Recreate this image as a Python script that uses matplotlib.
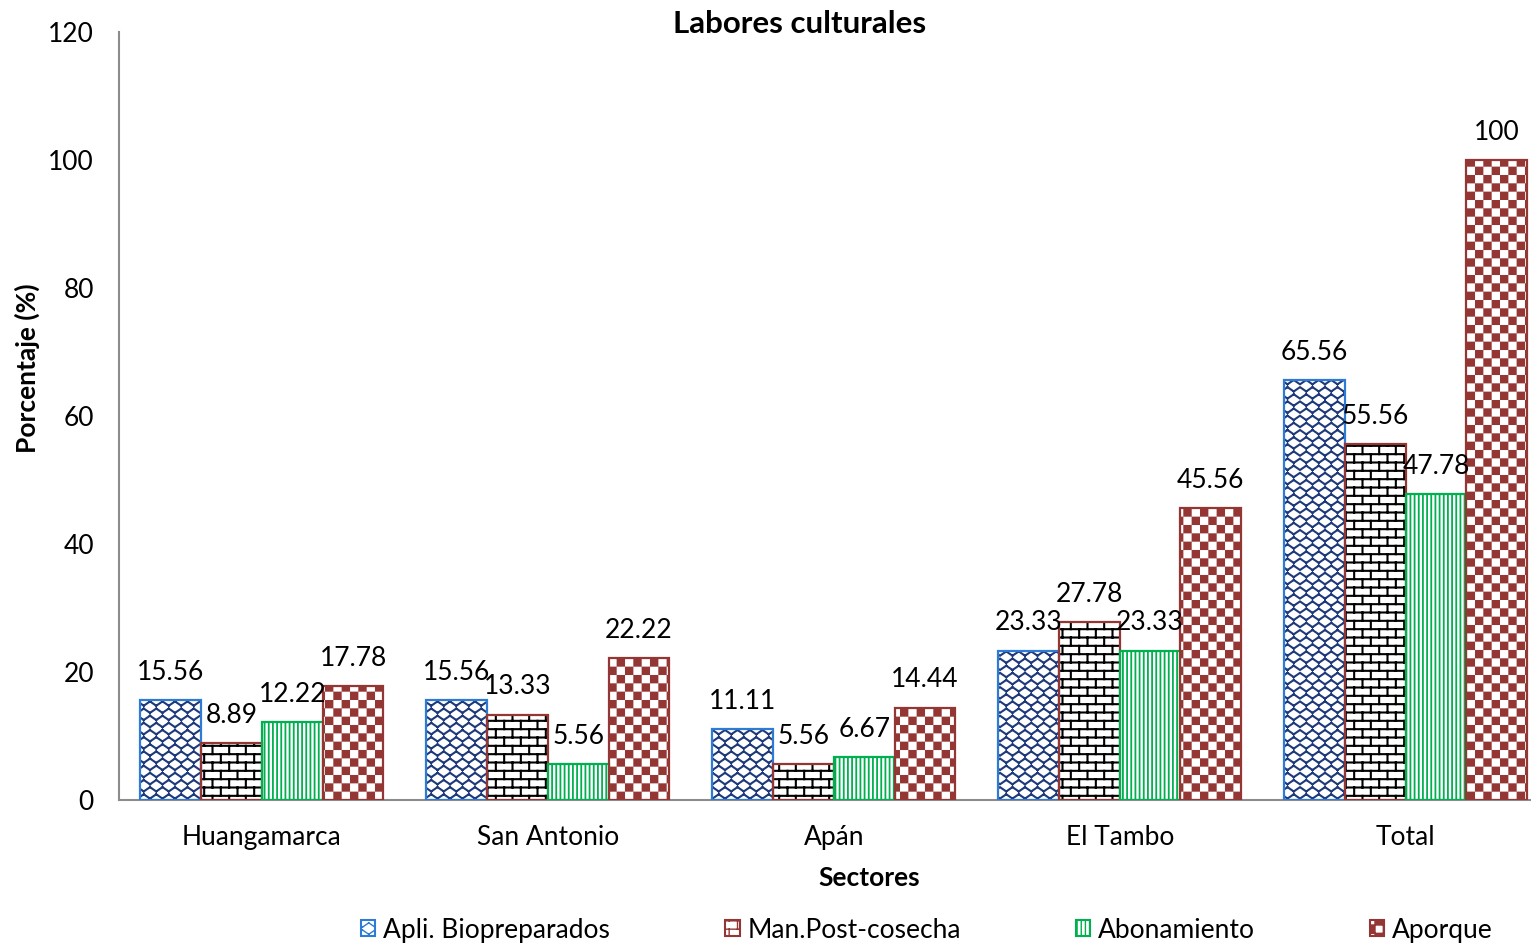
import warnings
warnings.filterwarnings('ignore')
import numpy as np
import matplotlib
matplotlib.use('Agg')
import matplotlib.pyplot as plt
import matplotlib.hatch as mhatch
from matplotlib.path import Path
from matplotlib.patches import Patch

# ---------------- data ----------------
sectores = ['Huangamarca', 'San Antonio', 'Apán', 'El Tambo', 'Total']
series_names = ['Apli. Biopreparados', 'Man.Post-cosecha', 'Abonamiento', 'Aporque']
apli = [15.56, 15.56, 11.11, 23.33, 65.56]
man_post = [8.89, 13.33, 5.56, 27.78, 55.56]
abonamiento = [12.22, 5.56, 6.67, 23.33, 47.78]
aporque = [17.78, 22.22, 14.44, 45.56, 100]
labels_apli = ['15.56', '15.56', '11.11', '23.33', '65.56']
labels_man = ['8.89', '13.33', '5.56', '27.78', '55.56']
labels_abo = ['12.22', '5.56', '6.67', '23.33', '47.78']
labels_apo = ['17.78', '22.22', '14.44', '45.56', '100']
yticks = [0, 20, 40, 60, 80, 100, 120]


# ---------------- custom hatch patterns ----------------
class _CustomHatch(mhatch.HatchPatternBase):
    char = None
    closed = False

    def __init__(self, hatch, density):
        self.active = hatch is not None and self.char in hatch
        self.segs = self.build() if self.active else []
        self.num_vertices = sum(len(s) for s in self.segs)

    def build(self):
        return []

    def set_vertices_and_codes(self, vertices, codes):
        i = 0
        for s in self.segs:
            n = len(s)
            vertices[i:i + n] = s
            codes[i] = Path.MOVETO
            codes[i + 1:i + n] = Path.LINETO
            if self.closed:
                codes[i + n - 1] = Path.CLOSEPOLY
            i += n


class CheckerHatch(_CustomHatch):
    char = 'k'
    closed = True

    def build(self):
        n = 12
        d = 1.0 / n
        segs = []
        for i in range(n):
            for j in range(n):
                if (i + j) % 2 == 0:
                    x0, y0 = i * d, j * d
                    segs.append([(x0, y0), (x0 + d, y0), (x0 + d, y0 + d),
                                 (x0, y0 + d), (x0, y0)])
        return segs


class BrickHatch(_CustomHatch):
    char = 'b'

    def build(self):
        rows, cols = 12, 6
        segs = []
        for r in range(rows):
            y = (r + 0.5) / rows
            segs.append([(0.0, y), (1.0, y)])
            y2 = (r + 1.5) / rows
            for c in range(cols):
                x = (c + 0.25 + 0.5 * (r % 2)) / cols
                x = x % 1.0
                segs.append([(x, y), (x, min(y2, 1.0))])
                if y2 > 1.0:
                    segs.append([(x, 0.0), (x, y2 - 1.0)])
        return segs


class ZigHatch(_CustomHatch):
    char = 'z'

    def build(self):
        rows, cols = 14, 8
        segs = []
        for r in range(rows):
            y0 = (r + 0.2) / rows
            y1 = (r + 0.8) / rows
            for c in range(cols):
                xa, xm, xb = c / cols, (c + 0.5) / cols, (c + 1) / cols
                if r % 2 == 0:
                    segs.append([(xa, y0), (xm, y1)])
                    segs.append([(xm, y1), (xb, y0)])
                else:
                    segs.append([(xa, y1), (xm, y0)])
                    segs.append([(xm, y0), (xb, y1)])
        return segs


mhatch._hatch_types.extend([CheckerHatch, BrickHatch, ZigHatch])

# ---------------- figure ----------------
plt.rcParams['font.family'] = ['Lato', 'DejaVu Sans']
FS = 19

fig = plt.figure(figsize=(15.31, 9.46), dpi=100)
ax = fig.add_axes([119 / 1531, 146 / 946, 1411 / 1531, 768 / 946])

x = np.arange(len(sectores))
w = 0.2125
offsets = [-1.5 * w, -0.5 * w, 0.5 * w, 1.5 * w]

series = [apli, man_post, abonamiento, aporque]
labels = [labels_apli, labels_man, labels_abo, labels_apo]
hatches = ['z', 'b', '||||', 'k']
hatch_colors = ['#1F3A7A', '#000000', '#00B050', '#943634']
edge_colors = ['#2E7BD6', '#943634', '#00B050', '#943634']
hatch_lw = [1.5, 1.5, 1.3, 0.05]

for vals, labs, off, h, hc, ec, hlw in zip(series, labels, offsets, hatches,
                                          hatch_colors, edge_colors, hatch_lw):
    plt.rcParams['hatch.linewidth'] = hlw
    ax.bar(x + off, vals, w, facecolor='white', edgecolor=hc, linewidth=0,
           hatch=h, zorder=2)
    ax.bar(x + off, vals, w, fill=False, edgecolor=ec, linewidth=1.6, zorder=3)
    for xi, v, lab in zip(x + off, vals, labs):
        ax.annotate(lab, (xi, v), xytext=(0, 20), textcoords='offset points',
                    ha='center', va='center', fontsize=FS, color='black',
                    zorder=4)

ax.set_xlim(-0.5, 4.435)
ax.set_ylim(0, 120)
ax.set_yticks(yticks)
ax.set_yticklabels([str(t) for t in yticks], fontsize=FS)
ax.set_xticks(x)
ax.set_xticklabels(sectores, fontsize=FS)
ax.tick_params(axis='both', length=0)
ax.tick_params(axis='y', pad=18)
ax.tick_params(axis='x', pad=18)

for s in ['top', 'right']:
    ax.spines[s].set_visible(False)
ax.spines['left'].set_color('#8C8C8C')
ax.spines['bottom'].set_color('#8C8C8C')
ax.spines['left'].set_linewidth(1.5)
ax.spines['bottom'].set_linewidth(1.5)

ax.text(0.482, 1.010, 'Labores culturales', transform=ax.transAxes,
        ha='center', va='center', fontsize=22.5, fontweight='bold')
ax.text(0.532, -0.1016, 'Sectores', transform=ax.transAxes,
        ha='center', va='center', fontsize=FS, fontweight='bold')
ax.text(-0.065, 0.5625, 'Porcentaje (%)', transform=ax.transAxes,
        ha='center', va='center', fontsize=FS, fontweight='bold', rotation=90)

plt.rcParams['hatch.linewidth'] = 1.0
handles = []
for h, hc, ec in zip(hatches, hatch_colors, edge_colors):
    handles.append(Patch(facecolor='white', edgecolor=ec, hatch=h, linewidth=1.5))
leg = fig.legend(handles, series_names, loc='center', bbox_to_anchor=(0.6055, 16 / 946),
                 ncol=4, frameon=False, fontsize=FS, handlelength=0.55,
                 handleheight=0.55, handletextpad=0.3, columnspacing=4.35)

fig.savefig('out.png', dpi=100)
